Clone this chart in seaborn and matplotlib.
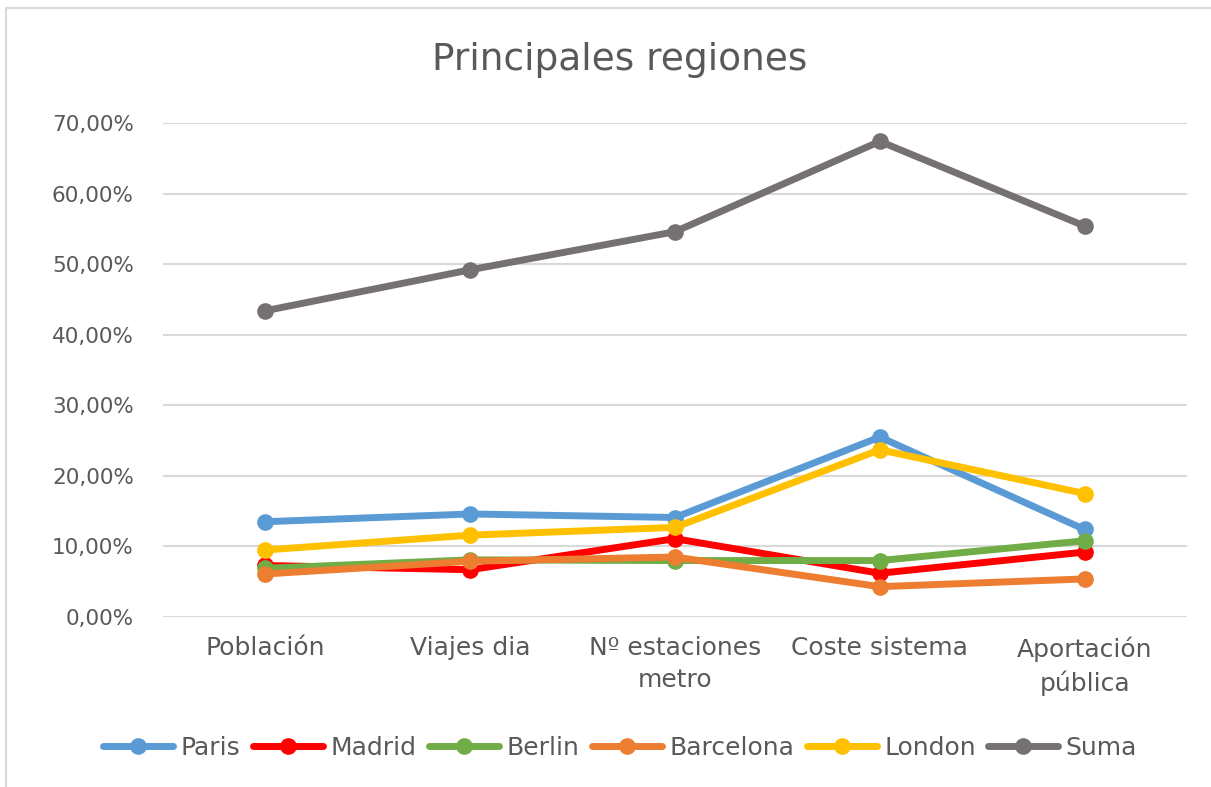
import pandas as pd
import matplotlib.pyplot as plt
import matplotlib.ticker as mticker
import seaborn as sns

# Datos (porcentajes)
categorias = ["Población", "Viajes dia", "Nº estaciones\nmetro", "Coste sistema", "Aportación\npública"]
paris = [13.5, 14.6, 14.1, 25.5, 12.4]
madrid = [7.3, 6.7, 11.1, 6.2, 9.2]
berlin = [6.9, 8.1, 8.0, 8.0, 10.8]
barcelona = [6.1, 7.9, 8.5, 4.3, 5.4]
london = [9.5, 11.6, 12.7, 23.7, 17.5]
suma = [43.4, 49.2, 54.6, 67.4, 55.4]

series = {
    "Paris": paris,
    "Madrid": madrid,
    "Berlin": berlin,
    "Barcelona": barcelona,
    "London": london,
    "Suma": suma,
}
colores = {
    "Paris": "#5B9BD5",
    "Madrid": "#FF0000",
    "Berlin": "#70AD47",
    "Barcelona": "#ED7D31",
    "London": "#FFC000",
    "Suma": "#767171",
}

filas = []
for nombre, valores in series.items():
    for i, v in enumerate(valores):
        filas.append({"pos": i, "serie": nombre, "valor": v})
df = pd.DataFrame(filas)

sns.set_theme(style="white")
plt.rcParams["font.family"] = ["DejaVu Sans"]
gris = "#595959"

fig = plt.figure(figsize=(12.11, 7.87), dpi=100)
ax = fig.add_axes([0.1346, 0.216, 0.8456, 0.6277])

sns.lineplot(data=df, x="pos", y="valor", hue="serie", palette=colores,
             hue_order=list(series.keys()), marker="o", markersize=12,
             markeredgewidth=0, linewidth=5, sort=False, ax=ax, legend=True)

ax.set_xlim(-0.5, len(categorias) - 0.5)
ax.set_ylim(0, 70)
ax.set_yticks(range(0, 71, 10))
ax.yaxis.set_major_formatter(mticker.FuncFormatter(lambda v, p: f"{v:.2f}%".replace(".", ",")))
ax.set_xticks(range(len(categorias)))
ax.set_xticklabels(categorias, fontsize=18, color=gris, linespacing=1.4)
ax.tick_params(axis="y", labelsize=15.5, colors=gris, length=0, pad=21)
ax.tick_params(axis="x", length=0, pad=14)
ax.grid(axis="y", color="#D9D9D9", linewidth=1.5)
ax.set_axisbelow(True)
for s in ax.spines.values():
    s.set_visible(False)
ax.set_xlabel("")
ax.set_ylabel("")

fig.text(0.512, 0.924, "Principales regiones", ha="center", va="center",
         fontsize=27, color=gris)

handles, labels = ax.get_legend_handles_labels()
ax.legend_.remove()
fig.legend(handles, labels, loc="center", bbox_to_anchor=(0.512, 0.05), ncol=6,
           frameon=False, fontsize=18, labelcolor=gris, handlelength=2.8,
           handletextpad=0.3, columnspacing=0.5)

# marco del área del gráfico
marco = plt.Rectangle((0.005, -0.01), 1.2, 1.0, transform=fig.transFigure,
                      fill=False, edgecolor="#D9D9D9", linewidth=1.5)
fig.patches.append(marco)

fig.savefig("out.png", dpi=100)
